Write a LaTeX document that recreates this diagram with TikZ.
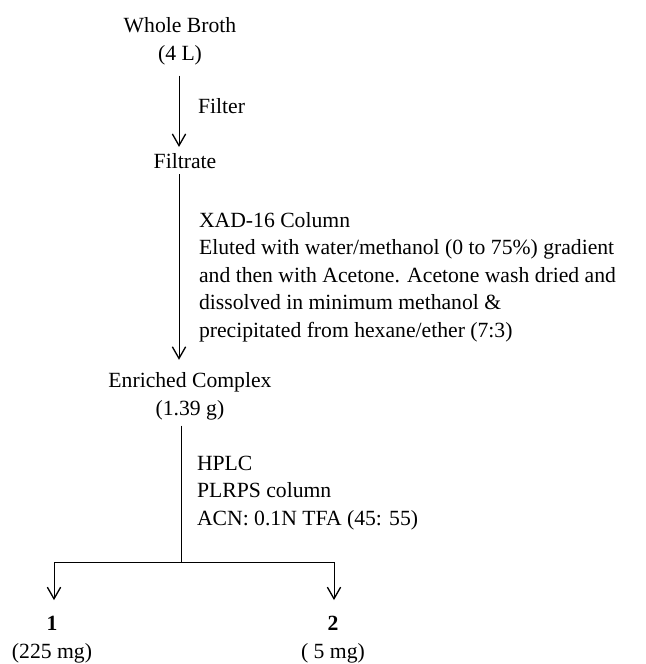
\documentclass[tikz,border=0pt]{standalone}
\usepackage{fontspec}
\setmainfont{Liberation Serif}
\usetikzlibrary{arrows.meta}

\begin{document}
\begin{tikzpicture}[x=0.6pt, y=-0.6pt, line width=0.6pt,
    every node/.style={font=\fontsize{13}{16.5}\selectfont},
    flow/.style={-{Straight Barb[length=7pt,width=8pt,line width=0.8pt]}}]
      \useasboundingbox (0,0) rectangle (646,664);

      % Define coordinates
      \coordinate (split) at (181,562);
      \coordinate (left_end) at (54,562);
      \coordinate (right_end) at (334,562);

      % Draw the fractions down the main line
      \node[align=center, anchor=base] (broth) at (180,60) {Whole Broth\\(4 L)};
      \node[anchor=base] (filtrate) at (185,168) {Filtrate};
      \node[align=center, anchor=base] (complex) at (190,415) {Enriched Complex\\(1.39 g)};

      % Draw the two pure compounds
      \node[align=center, anchor=base] (cmpd_one) at (52,658) {\textbf{1}\\(225 mg)};
      \node[align=center, anchor=base] (cmpd_two) at (333,658) {\textbf{2}\\( 5 mg)};

      % Draw the steps between them
      \draw[flow, shorten <=3pt] (broth.south -| 179,0) -- (filtrate.north -| 179,0);
      \draw[flow, shorten >=4pt] (filtrate.south -| 179,0) -- (complex.north -| 179,0);
      \draw (complex.south -| split) -- (split);
      \draw (left_end) -- (right_end);
      \draw[flow, shorten >=6pt] (left_end) -- (cmpd_one.north -| left_end);
      \draw[flow, shorten >=6pt] (right_end) -- (cmpd_two.north -| right_end);

      % Write the conditions beside the steps
      \node[anchor=base west] (filter_lbl) at (192,113) {Filter};
      \node[align=left, anchor=base west] (xad_lbl) at (193,337) {XAD-16 Column\\
        Eluted with water/methanol (0 to 75\%) gradient\\
        and then with Acetone. Acetone wash dried and\\
        dissolved in minimum methanol \&\\
        precipitated from hexane/ether (7:3)};
      \node[align=left, anchor=base west] (hplc_lbl) at (191,525) {HPLC\\
        PLRPS column\\
        ACN: 0.1N TFA (45: 55)};
    \end{tikzpicture}
\end{document}
